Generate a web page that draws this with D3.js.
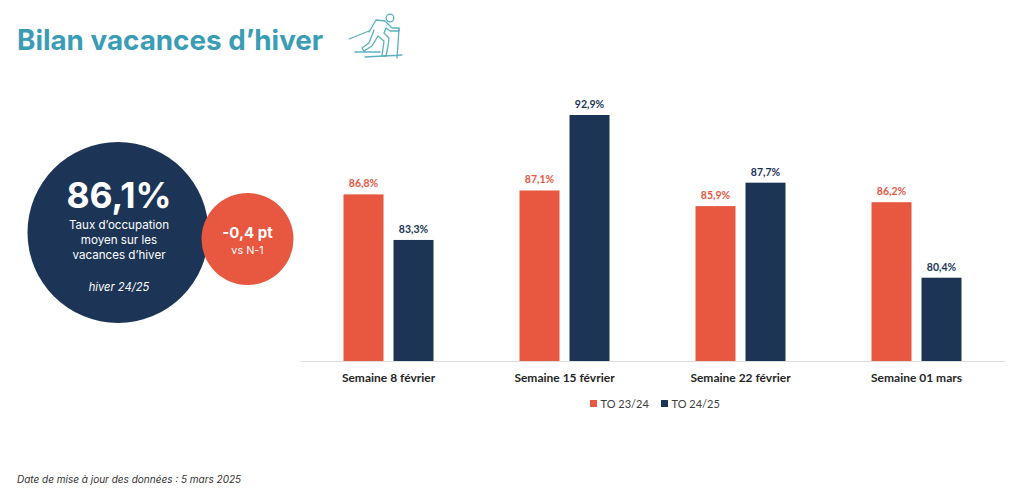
<!DOCTYPE html>
<html><head><meta charset="utf-8">
<script src="https://cdn.jsdelivr.net/npm/d3@7/dist/d3.min.js"></script>
<style>html,body{margin:0;padding:0;background:#fff}svg{display:block}</style>
</head><body><svg id="c" width="1024" height="490"></svg>
<script>
const categories = ["Semaine 8 février","Semaine 15 février","Semaine 22 février","Semaine 01 mars"];
const seriesNames = ["TO 23/24","TO 24/25"];
const to2324 = [86.8,87.1,85.9,86.2];
const to2425 = [83.3,92.9,87.7,80.4];
const ORANGE="#E8573F", NAVY="#1C3557", TEAL="#3A9DB5";
const fmt = v => v.toFixed(1).replace(".",",")+"%";
const svg = d3.select("#c");
const x = d3.scaleBand().domain(categories).range([300.5,1004.5]);
const y = d3.scaleLinear().domain([74,92.9]).range([361,115]);
const sub = d3.scaleBand().domain(seriesNames).range([-45,45]).paddingInner(0.2);
const colors = d3.scaleOrdinal().domain(seriesNames).range([ORANGE,NAVY]);

svg.append("text").attr("x",17).attr("y",49.5).attr("font-family","Inter").attr("font-weight",700)
  .attr("font-size",27.8).attr("fill",TEAL).text("Bilan vacances d’hiver");

// ski icon
const icon = svg.append("g").attr("fill","none").attr("stroke","#5BB0C3").attr("stroke-width",1.3).attr("stroke-linejoin","round").attr("stroke-linecap","round");
icon.append("circle").attr("cx",390).attr("cy",18).attr("r",3.8);
icon.append("path").attr("d","M349 39 L369 31 M369 32 L376 20 L385 21 L392 28 L399 28 L399 31 L390 31 L386 28 L384 33 L389 38 L388 46 L386 56 L382 56 L384 41 L378 36 L372 46 L364 51 L362 48 L369 43 L374 30");
icon.append("path").attr("d","M399 29 L397 58 M355 52 L380 52 M365 57 L402 55");

const g = svg.selectAll("g.cat").data(categories).join("g").attr("class","cat")
  .attr("transform",d=>`translate(${x(d)+x.bandwidth()/2},0)`);
[to2324,to2425].forEach((vals,si)=>{
  const name = seriesNames[si];
  g.append("rect").attr("x",sub(name)).attr("width",sub.bandwidth())
    .attr("y",(d,i)=>y(vals[i])).attr("height",(d,i)=>y.range()[0]-y(vals[i])).attr("fill",colors(name));
  g.append("text").attr("x",sub(name)+sub.bandwidth()/2).attr("y",(d,i)=>y(vals[i])-7)
    .attr("text-anchor","middle").attr("font-family","Lato").attr("font-weight",700).attr("font-size",10.5)
    .attr("fill",colors(name)).text((d,i)=>fmt(vals[i]));
});

const axis = svg.append("g").attr("transform","translate(0,361)").call(d3.axisBottom(x).tickSize(0).tickPadding(12.5));
axis.select(".domain").attr("stroke","#DEDEDE").attr("stroke-width",1);
axis.selectAll("text").attr("font-family","Lato").attr("font-weight",700).attr("font-size",12).attr("fill","#262626");

// legend
const legendX = [590,661];
seriesNames.forEach((n,i)=>{
  svg.append("rect").attr("x",legendX[i]).attr("y",400).attr("width",7).attr("height",7).attr("fill",colors(n));
  svg.append("text").attr("x",legendX[i]+10.5).attr("y",407.5).attr("font-family","Lato").attr("font-size",11).attr("fill","#404040").text(n);
});

// KPI circles
svg.append("circle").attr("cx",118).attr("cy",232.5).attr("r",90.5).attr("fill",NAVY);
svg.append("circle").attr("cx",247.5).attr("cy",239).attr("r",46).attr("fill",ORANGE);
const t=(x0,y0,s,size,w,style)=>svg.append("text").attr("x",x0).attr("y",y0).attr("text-anchor","middle")
  .attr("font-family","Inter").attr("font-size",size).attr("font-weight",w).attr("font-style",style||"normal").attr("fill","#fff").text(s);
t(119,207.5,"86,1%",35.5,700);
t(119,229,"Taux d’occupation",11.6,400);
t(119,244,"moyen sur les",11.6,400);
t(119,259,"vacances d’hiver",11.6,400);
t(119,291,"hiver 24/25",11.2,400,"italic");
t(247.5,238,"-0,4 pt",15,700);
t(247.5,254,"vs N-1",10.8,400);

svg.append("text").attr("x",17).attr("y",483).attr("font-family","Inter").attr("font-style","italic")
  .attr("font-size",10).attr("fill","#333").text("Date de mise à jour des données : 5 mars 2025");
</script></body></html>
